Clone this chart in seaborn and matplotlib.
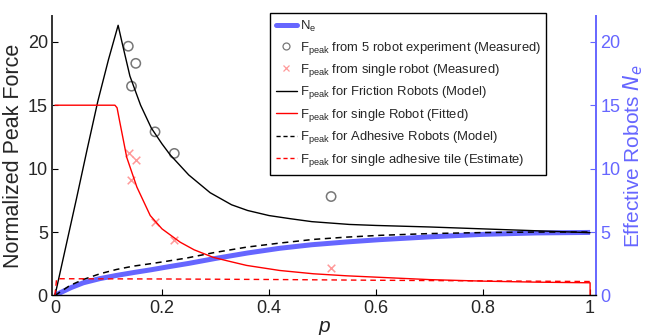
import numpy as np
import pandas as pd
import matplotlib
matplotlib.use("Agg")
import matplotlib.pyplot as plt
import seaborn as sns
from matplotlib.lines import Line2D

# ---------------- data ----------------
p_friction = [0, 0.02, 0.04, 0.06, 0.08, 0.10, 0.118, 0.125, 0.14, 0.16, 0.18, 0.20,
              0.215, 0.25, 0.29, 0.33, 0.36, 0.40, 0.44, 0.48, 0.55, 0.60, 0.70,
              0.80, 0.90, 1.00]
F_friction = [0, 3.8, 7.6, 11.5, 15.3, 18.6, 21.3, 20.0, 17.3, 15.0, 13.2, 11.95,
              11.1, 9.5, 8.1, 7.15, 6.7, 6.3, 6.05, 5.82, 5.6, 5.52, 5.4,
              5.25, 5.1, 4.95]

p_single = [0, 0.112, 0.116, 0.121, 0.128, 0.134, 0.153, 0.178, 0.20, 0.234, 0.26,
            0.296, 0.33, 0.358, 0.42, 0.483, 0.545, 0.607, 0.70, 0.80, 0.90, 1.00, 1.00]
F_single = [15, 15, 14.8, 13.7, 12.2, 10.9, 8.55, 6.3, 5.25, 4.2, 3.6,
            3.0, 2.65, 2.37, 1.97, 1.71, 1.55, 1.43, 1.25, 1.13, 1.05, 1.0, 0]

p_adh = [0, 0.028, 0.053, 0.084, 0.115, 0.146, 0.178, 0.209, 0.246, 0.296, 0.358,
         0.42, 0.483, 0.545, 0.607, 0.70, 0.80, 0.90, 1.00]
F_adh = [0, 0.79, 1.26, 1.71, 2.05, 2.31, 2.5, 2.7, 2.95, 3.37, 3.81,
         4.13, 4.42, 4.6, 4.74, 4.88, 4.96, 5.0, 5.0]

p_tile = [0, 0.003, 0.20, 0.40, 0.60, 0.80, 1.00]
F_tile = [0, 1.32, 1.30, 1.26, 1.20, 1.15, 1.10]

p_ne = [0, 0.01, 0.03, 0.053, 0.084, 0.115, 0.15, 0.18, 0.21, 0.25, 0.30, 0.36,
        0.42, 0.48, 0.545, 0.607, 0.70, 0.80, 0.90, 1.00]
Ne = [0, 0.22, 0.62, 1.0, 1.33, 1.58, 1.83, 2.03, 2.25, 2.53, 2.92, 3.35,
      3.72, 4.0, 4.22, 4.4, 4.62, 4.82, 4.93, 4.97]

p_meas5 = [0.137, 0.151, 0.143, 0.187, 0.223, 0.516]
F_meas5 = [19.65, 18.3, 16.5, 12.9, 11.2, 7.8]

p_meas1 = [0.138, 0.151, 0.142, 0.186, 0.223, 0.516]
F_meas1 = [11.26, 10.7, 9.13, 5.79, 4.34, 2.16]

x_ticks = [0, 0.2, 0.4, 0.6, 0.8, 1]
x_ticklabels = ["0", "0.2", "0.4", "0.6", "0.8", "1"]
y_ticks = [0, 5, 10, 15, 20]

legend_labels = [
    "N$_e$",
    "F$_{peak}$ from 5 robot experiment (Measured)",
    "F$_{peak}$ from single robot (Measured)",
    "F$_{peak}$ for Friction Robots (Model)",
    "F$_{peak}$ for single Robot (Fitted)",
    "F$_{peak}$ for Adhesive Robots (Model)",
    "F$_{peak}$ for single adhesive tile (Estimate)",
]

# ---------------- style ----------------
sns.set_theme(style="white")
plt.rcParams["font.family"] = ["Liberation Sans", "DejaVu Sans"]
plt.rcParams["mathtext.default"] = "regular"
plt.rcParams["xtick.direction"] = "in"
plt.rcParams["ytick.direction"] = "in"

BLUE = "#6666ff"

fig = plt.figure(figsize=(6.45, 3.35), dpi=100)
ax = fig.add_axes([0.0806, 0.118, 0.924 - 0.0806, 0.951 - 0.118])
ax2 = ax.twinx()

# right axis: Ne
sns.lineplot(x=p_ne, y=Ne, ax=ax2, color=BLUE, lw=3.6, estimator=None, sort=False,
             solid_capstyle="butt")

# left axis
sns.lineplot(x=p_friction, y=F_friction, ax=ax, color="black", lw=1.0,
             estimator=None, sort=False)
sns.lineplot(x=p_single, y=F_single, ax=ax, color="red", lw=1.0,
             estimator=None, sort=False)
sns.lineplot(x=p_adh, y=F_adh, ax=ax, color="black", lw=1.1,
             estimator=None, sort=False, linestyle=(0, (4, 3)))
sns.lineplot(x=p_tile, y=F_tile, ax=ax, color="red", lw=1.0,
             estimator=None, sort=False, linestyle=(0, (4, 3)))
sns.scatterplot(x=p_meas5, y=F_meas5, ax=ax, marker="o", s=45,
                facecolor="none", edgecolor="#777777", linewidth=1.1)
sns.scatterplot(x=p_meas1, y=F_meas1, ax=ax, marker="x", s=30,
                color="#ff9999", linewidth=1.1)

for a in (ax, ax2):
    a.set_xlim(-0.0056, 1.011)
    a.set_ylim(0, 22)
    a.set_facecolor("none")

ax.set_zorder(ax2.get_zorder() + 1)

ax.set_xticks(x_ticks)
ax.set_xticklabels(x_ticklabels)
ax.set_yticks(y_ticks)
ax2.set_yticks(y_ticks)

ax.tick_params(axis="both", labelsize=13, length=4, width=0.8, color="black",
               left=True, bottom=True, pad=3)
ax2.tick_params(axis="y", labelsize=13, length=4, width=0.8, colors=BLUE,
                right=True, direction="in", pad=3)
for i, t in enumerate(ax2.yaxis.get_major_ticks()):
    t.tick2line.set_color("red" if y_ticks[i] == 15 else "black")

ax.spines["top"].set_visible(False)
ax2.spines["top"].set_visible(False)
ax.spines["right"].set_visible(False)
ax2.spines["left"].set_visible(False)
ax2.spines["bottom"].set_visible(False)
ax.spines["left"].set_color("#333333")
ax.spines["left"].set_linewidth(1.4)
ax.spines["bottom"].set_color("black")
ax.spines["bottom"].set_linewidth(1.0)
ax2.spines["right"].set_color(BLUE)
ax2.spines["right"].set_linewidth(1.4)

ax.set_xlabel("p", fontsize=15, style="italic", labelpad=0)
ax.set_ylabel("Normalized Peak Force", fontsize=15.5)
ax.yaxis.set_label_coords(-0.052, 0.5)
ax2.set_ylabel("Effective Robots $\\mathit{N_e}$", fontsize=15, color=BLUE)
ax2.yaxis.set_label_coords(1.046, 0.5)

handles = [
    Line2D([], [], color=BLUE, lw=3.6),
    Line2D([], [], color="#777777", marker="o", ls="none", mfc="none", ms=5, mew=0.9),
    Line2D([], [], color="#ff9999", marker="x", ls="none", ms=4.5, mew=0.9),
    Line2D([], [], color="black", lw=1.0),
    Line2D([], [], color="red", lw=1.0),
    Line2D([], [], color="black", lw=1.0, ls=(0, (3, 2))),
    Line2D([], [], color="red", lw=1.0, ls=(0, (3, 2))),
]
leg = ax.legend(handles, legend_labels, loc="upper right", bbox_to_anchor=(0.909, 1.012),
                borderaxespad=0, fontsize=9.4, frameon=True, fancybox=False,
                handlelength=1.6, handletextpad=0.2, labelspacing=0.42,
                borderpad=0.45, framealpha=1)
leg.get_frame().set_edgecolor("black")
leg.get_frame().set_linewidth(1.0)
# MATLAB-style extra room at the right of the legend box
fig.canvas.draw()
frame = leg.get_frame()
frame.set_width(frame.get_width() + 21)

fig.savefig("out.png", dpi=100)
